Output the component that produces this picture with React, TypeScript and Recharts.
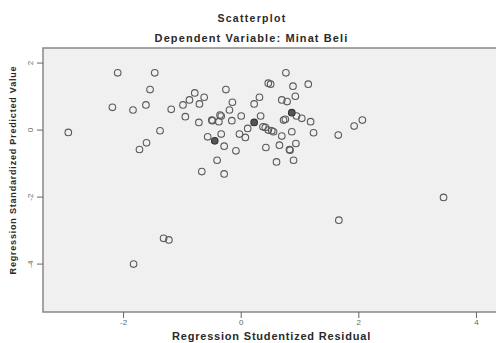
import React from "react";
import { ScatterChart, Scatter, XAxis, YAxis, ReferenceArea } from "recharts";

const X_TICKS = [-2, 0, 2, 4];
const Y_TICKS = [-4, -2, 0, 2];
const X_DOMAIN = [-3.37, 4.4];
const Y_DOMAIN = [-5.43, 2.45];

// residual (x) vs predicted value (y)
const RESIDUALS = [
  -2.94, -2.1, -1.47, -1.55, -2.19, -1.84, -1.62, -1.19, -1.38, -1.61, -1.73,
  -0.79, -0.63, -0.26, -0.88, -0.71, -0.99, -0.95, -0.72, -0.49, -0.34, -0.15,
  -0.2, -0.16, 0.0, 0.22, 0.31, 0.33, 0.11, -0.03, 0.07, -0.34, -0.57, -0.29,
  -0.09, 0.42, -0.41, -0.67, -0.29, 0.37, 0.46, 0.76, 0.5, 0.88, 1.14, 0.92,
  0.69, 0.78, 0.41, 0.52, 0.69, 0.86, 0.94, 1.03, 0.75, 1.18, 1.23, 0.93, 0.65,
  0.82, 0.6, 0.89, 1.65, 1.92, 2.06, -1.32, -1.23, -1.83, 1.66, 3.44, -0.36,
  -0.5, -0.38, 0.46, 0.55, 0.72, 0.83,
];
const PREDICTED = [
  -0.07, 1.71, 1.71, 1.21, 0.68, 0.6, 0.75, 0.62, -0.02, -0.38, -0.58,
  1.11, 0.98, 1.21, 0.9, 0.78, 0.75, 0.4, 0.23, 0.28, 0.42, 0.83,
  0.6, 0.28, 0.42, 0.78, 0.98, 0.42, 0.05, -0.12, -0.22, -0.12, -0.2, -0.48,
  -0.62, -0.52, -0.9, -1.24, -1.31, 0.1, 1.4, 1.71, 1.37, 1.31, 1.37, 1.01,
  0.9, 0.85, 0.08, -0.02, -0.18, -0.05, 0.42, 0.35, 0.32, 0.25, -0.08, -0.4, -0.45,
  -0.58, -0.95, -0.9, -0.15, 0.12, 0.3, -3.23, -3.28, -4.0, -2.69, -2.01, 0.45,
  0.3, 0.25, 0.0, -0.05, 0.3, -0.6,
];
// overlapping cases that print darker
const DARK_RESIDUALS = [0.22, -0.45, 0.86];
const DARK_PREDICTED = [0.23, -0.32, 0.52];

const points = RESIDUALS.map((x, i) => ({ x, y: PREDICTED[i] }));
const darkPoints = DARK_RESIDUALS.map((x, i) => ({ x, y: DARK_PREDICTED[i] }));

const FONT = "'Liberation Sans', Arial, sans-serif";
const titleStyle = { position: "absolute", left: 0, textAlign: "center", fontWeight: "bold", color: "#2a2a2a" } as const;

const ring = (stroke: string, fill: string) => (p: any) => (
  <circle cx={p.cx} cy={p.cy} r={3.3} fill={fill} stroke={stroke} strokeWidth={1.1} />
);

const YTick = (p: any) => (
  <text x={p.x - 2} y={p.y} transform={`rotate(-90, ${p.x - 2}, ${p.y})`} textAnchor="middle"
    fontSize={8} fill="#666" fontFamily={FONT}>
    {p.payload.value}
  </text>
);

const XTick = (p: any) => (
  <text x={p.x} y={p.y + 5} textAnchor="middle" fontSize={8} fill="#666" fontFamily={FONT}>
    {p.payload.value}
  </text>
);

export default function App() {
  return (
    <div style={{ position: "absolute", left: 0, top: 0, width: 496, height: 343, overflow: "hidden", background: "#fff", fontFamily: FONT }}>
      <div style={{ ...titleStyle, width: 504, top: 12, fontSize: 10.5, letterSpacing: 1.3 }}>
        Scatterplot
      </div>
      <div style={{ ...titleStyle, width: 503, top: 32, fontSize: 11, letterSpacing: 1.1 }}>
        Dependent Variable: Minat Beli
      </div>
      <div style={{ ...titleStyle, width: 543, top: 330, fontSize: 11, letterSpacing: 0.8 }}>
        Regression Studentized Residual
      </div>
      <div style={{ position: "absolute", left: 13, top: 171, width: 0, height: 0 }}>
        <div style={{ position: "absolute", left: -150, top: -6, width: 300, textAlign: "center", fontSize: 9, fontWeight: "bold", color: "#2a2a2a", letterSpacing: 0.8, transform: "rotate(-90deg)" }}>
          Regression Standardized Predicted Value
        </div>
      </div>
      <ScatterChart width={520} height={343} margin={{ top: 48, right: 20, bottom: 0, left: 0 }} style={{ position: "absolute", left: 0, top: 0 }}>
        <XAxis type="number" dataKey="x" domain={X_DOMAIN} ticks={X_TICKS} allowDataOverflow
          axisLine={false} tickLine={{ stroke: "#666" }} tickSize={6} height={31} tick={<XTick />} />
        <YAxis type="number" dataKey="y" domain={Y_DOMAIN} ticks={Y_TICKS} allowDataOverflow
          axisLine={false} tickLine={{ stroke: "#666" }} tickSize={6} width={43} tick={<YTick />} />
        <ReferenceArea x1={X_DOMAIN[0]} x2={X_DOMAIN[1]} y1={Y_DOMAIN[0]} y2={Y_DOMAIN[1]}
          fill="#f0f0f0" fillOpacity={1} stroke="#888" strokeWidth={1.5} />
        <Scatter data={points} shape={ring("#5a5a5a", "none")} isAnimationActive={false} />
        <Scatter data={darkPoints} shape={ring("#333", "#555")} isAnimationActive={false} />
      </ScatterChart>
    </div>
  );
}
